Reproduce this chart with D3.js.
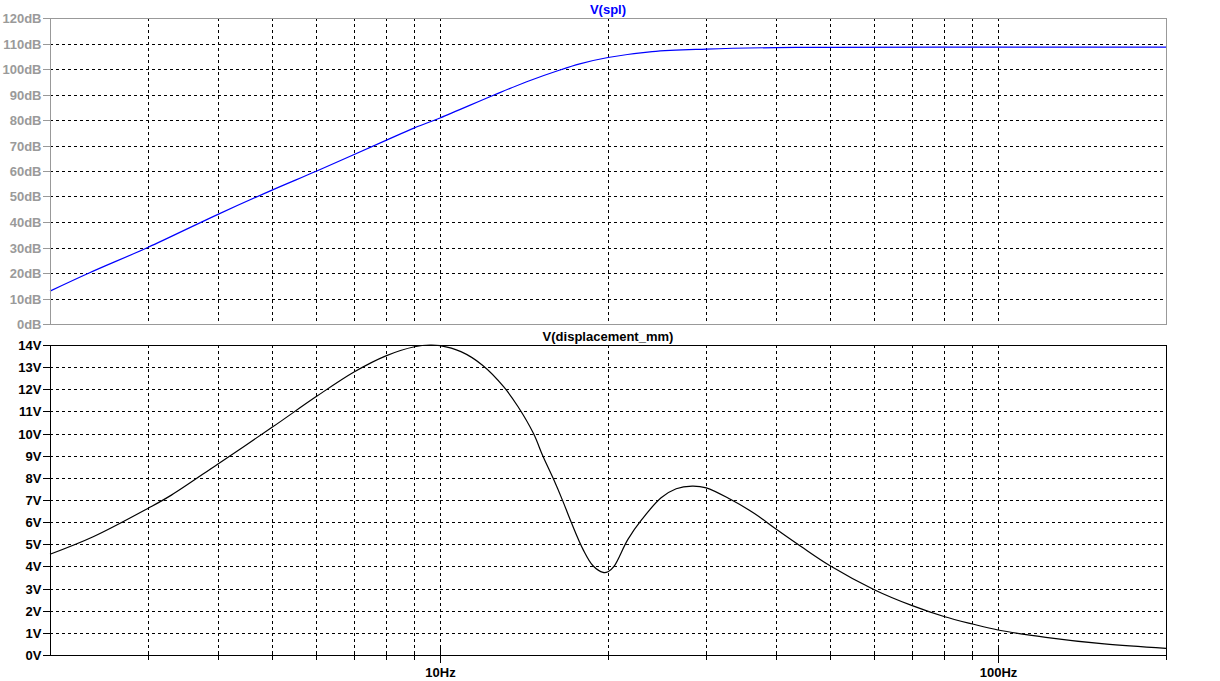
<!DOCTYPE html>
<html><head><meta charset="utf-8">
<script src="https://cdn.jsdelivr.net/npm/d3@7"></script>
<style>
body{margin:0;background:#fff}
svg text{font-family:"Liberation Sans",Arial,sans-serif;font-weight:bold;font-size:13px}
</style>
</head><body>
<svg id="chart" width="1220" height="681"></svg>
<script>
// ---- data ----
const splTitle = "V(spl)";
const dispTitle = "V(displacement_mm)";
const splFreq = [2, 2.35, 3, 4, 5, 6, 7, 8, 9, 10, 12.5, 14.3, 16.4, 17.8, 20, 24, 30, 40, 50, 100, 200];
const splDb   = [12.9, 20, 30.1, 43, 52.5, 59.9, 66.4, 72.0, 76.9, 80.8, 89.8, 95.0, 99.6, 102.0, 104.5, 106.8, 107.8, 108.4, 108.5, 108.6, 108.6];
const dispFreq = [2, 2.39, 3, 3.3, 4, 5, 6, 7, 8, 9, 9.6, 10, 10.9, 11.9, 13.0, 13.8, 14.7, 15.3, 16.0, 16.6, 17.2, 18.05, 18.8, 19.6, 20, 20.5, 21.7, 23.0, 24.9, 26.5, 28.3, 30, 33.2, 36.6, 40, 44.3, 50, 60, 70, 80, 90, 100, 121.8, 155, 200];
const dispV    = [4.55, 5.34, 6.63, 7.22, 8.63, 10.28, 11.67, 12.77, 13.51, 13.92, 14.0, 13.97, 13.7, 13.1, 12.12, 11.21, 10.01, 8.96, 7.9, 6.95, 5.97, 4.76, 4.03, 3.73, 3.76, 4.0, 5.21, 6.12, 7.10, 7.51, 7.63, 7.55, 7.02, 6.39, 5.69, 4.91, 4.03, 2.95, 2.24, 1.74, 1.40, 1.13, 0.80, 0.50, 0.30];
const freqDomain = [2, 200];
const gridFreqs = [3, 4, 5, 6, 7, 8, 9, 10, 20, 30, 40, 50, 60, 70, 80, 90, 100];
const majorFreqs = [10, 100];
const majorFreqLabels = ["10Hz", "100Hz"];
const splTicks = [0, 10, 20, 30, 40, 50, 60, 70, 80, 90, 100, 110, 120];
const splTickLabels = ["0dB","10dB","20dB","30dB","40dB","50dB","60dB","70dB","80dB","90dB","100dB","110dB","120dB"];
const dispTicks = [0, 1, 2, 3, 4, 5, 6, 7, 8, 9, 10, 11, 12, 13, 14];
const dispTickLabels = ["0V","1V","2V","3V","4V","5V","6V","7V","8V","9V","10V","11V","12V","13V","14V"];

// ---- layout ----
const L = 50, R = 1166;
const top1 = 18, bot1 = 324, top2 = 345, bot2 = 655;
const gray = "#999999", grayText = "#9a9a9a";

const svg = d3.select("#chart");
const x = d3.scaleLog().domain(freqDomain).range([L, R]);
const y1 = d3.scaleLinear().domain([0, 120]).range([bot1, top1]);
const y2 = d3.scaleLinear().domain([0, 14]).range([bot2, top2]);

function panel(y, ticks, labels, frameColor, textColor, vals, lineColor, title, titleY, titleColor) {
  const g = svg.append("g");
  // horizontal grid
  g.append("g").selectAll("line").data(ticks.slice(1, -1)).join("line")
    .attr("x1", L).attr("x2", R)
    .attr("y1", d => Math.round(y(d)) + 0.5).attr("y2", d => Math.round(y(d)) + 0.5)
    .attr("stroke", "#000").attr("stroke-dasharray", "3,3").attr("shape-rendering", "crispEdges");
  // vertical grid
  g.append("g").selectAll("line").data(gridFreqs).join("line")
    .attr("x1", d => Math.round(x(d)) + 0.5).attr("x2", d => Math.round(x(d)) + 0.5)
    .attr("y1", y.range()[1]).attr("y2", y.range()[0])
    .attr("stroke", "#000").attr("stroke-dasharray", "3,3").attr("shape-rendering", "crispEdges");
  // y axis
  const ax = g.append("g").attr("transform", `translate(${L + 0.5},0)`)
    .call(d3.axisLeft(y).tickValues(ticks).tickSize(8).tickPadding(1)
      .tickFormat((d, i) => labels[i]));
  ax.select(".domain").remove();
  ax.selectAll(".tick line").attr("stroke", frameColor).attr("shape-rendering", "crispEdges");
  ax.selectAll(".tick").attr("transform", d => `translate(0,${Math.round(y(d)) + 0.5})`);
  ax.selectAll("text").attr("fill", textColor).attr("dy", "0.36em")
    .style("font-family", '"Liberation Sans",Arial,sans-serif').style("font-size", "13px").style("font-weight", "bold");
  // curve
  const line = d3.line().x(d => x(d[0])).y(d => y(d[1])).curve(d3.curveCatmullRom.alpha(0.5));
  g.append("path").datum(vals).attr("d", line)
    .attr("fill", "none").attr("stroke", lineColor).attr("stroke-width", 1.2);
  // frame
  g.append("rect").attr("x", L + 0.5).attr("y", Math.round(y.range()[1]) + 0.5)
    .attr("width", R - L).attr("height", y.range()[0] - y.range()[1])
    .attr("fill", "none").attr("stroke", frameColor).attr("shape-rendering", "crispEdges");
  // title
  g.append("text").attr("x", (L + R) / 2).attr("y", titleY).attr("text-anchor", "middle")
    .attr("dy", "0.36em").attr("fill", titleColor).text(title);
  return g;
}

panel(y1, splTicks, splTickLabels, gray, grayText, splFreq.map((f, i) => [f, splDb[i]]), "#0000ff", splTitle, 9, "#0000ff");
panel(y2, dispTicks, dispTickLabels, "#000", "#000", dispFreq.map((f, i) => [f, dispV[i]]), "#000", dispTitle, 336, "#000");

// bottom x axis
const xa = svg.append("g").attr("transform", `translate(0,${bot2 + 0.5})`)
  .call(d3.axisBottom(x).tickValues(gridFreqs).tickSize(4)
    .tickFormat(d => { const k = majorFreqs.indexOf(d); return k >= 0 ? majorFreqLabels[k] : ""; }));
xa.select(".domain").remove();
xa.selectAll(".tick").attr("transform", d => `translate(${Math.round(x(d)) + 0.5},0)`);
xa.selectAll(".tick line").attr("stroke", "#000").attr("shape-rendering", "crispEdges")
  .attr("y1", d => majorFreqs.includes(d) ? -8 : -2)
  .attr("y2", d => majorFreqs.includes(d) ? 7 : 4);
xa.selectAll("text").attr("y", 12).attr("dy", "0.71em").attr("fill", "#000")
  .style("font-family", '"Liberation Sans",Arial,sans-serif').style("font-size", "13px").style("font-weight", "bold");
// right end tick
svg.append("line").attr("x1", R + 0.5).attr("x2", R + 0.5).attr("y1", bot2).attr("y2", bot2 + 5)
  .attr("stroke", "#000").attr("shape-rendering", "crispEdges");
</script>
</body></html>
